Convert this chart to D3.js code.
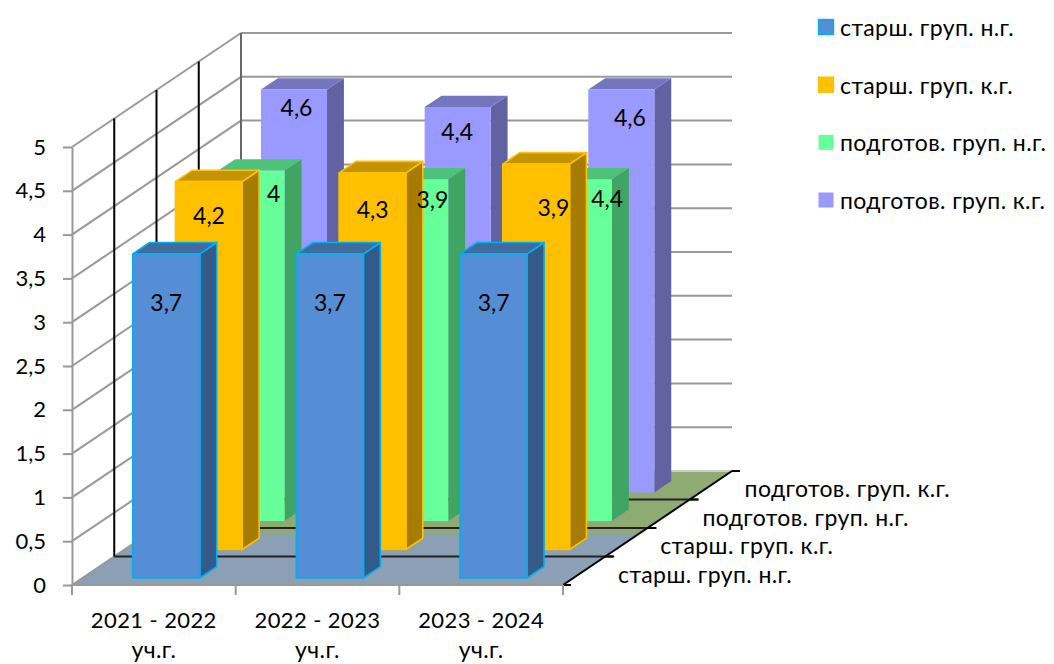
<!DOCTYPE html>
<html><head><meta charset="utf-8">
<script src="https://cdn.jsdelivr.net/npm/d3@7"></script>
<style>html,body{margin:0;background:#fff}svg{display:block}text{font-family:Lato,"Open Sans","Noto Sans",sans-serif;fill:#000}</style>
</head><body><svg id="c" width="1054" height="664"></svg>
<script>
const categories = ["2021 - 2022", "2022 - 2023", "2023 - 2024"];
const categorySub = ["уч.г.", "уч.г.", "уч.г."];
const seriesNames = ["старш. груп. н.г.", "старш. груп. к.г.", "подготов. груп. н.г.", "подготов. груп. к.г."];
const seniorStart = [3.7, 3.7, 3.7];
const seniorEnd = [4.2, 4.3, 4.4];
const prepStart = [4.0, 3.9, 3.9];
const prepEnd = [4.6, 4.4, 4.6];
const seniorStartLabels = ["3,7", "3,7", "3,7"];
const seniorEndLabels = ["4,2", "4,3", "3,9"];
const prepStartLabels = ["4", "3,9", "4,4"];
const prepEndLabels = ["4,6", "4,4", "4,6"];
const yTicks = [0, 0.5, 1, 1.5, 2, 2.5, 3, 3.5, 4, 4.5, 5];

const seriesValues = [seniorStart, seniorEnd, prepStart, prepEnd];
const seriesLabels = [seniorStartLabels, seniorEndLabels, prepStartLabels, prepEndLabels];
const palette = [
  {front:"#558ED5", top:"#3F6B9F", side:"#345A8A", stroke:"#00B0F0"},
  {front:"#FFC000", top:"#C49300", side:"#A67C00", stroke:"#FFC000"},
  {front:"#66FF99", top:"#4FC279", side:"#40A463", stroke:null},
  {front:"#9999FF", top:"#7575BD", side:"#6262A2", stroke:null}
];
// label nudges relative to the default spot on each bar's front face [dx, dy]
const labelNudge = [
  [[0,48],[0,48],[0,48]],
  [[0,33],[0,36],[17,43]],
  [[22,22],[17,20],[28,19]],
  [[2,17],[-1,24],[8,27]]
];

const TEXT_CYR = 23, TEXT_NUM = 22, TEXT_DATA = 23, TRACK = "0.4px";
const svg = d3.select("#c");
const x = d3.scaleBand().domain(categories).range([72,563]).paddingInner(.59).paddingOuter(.295).align(.52);
const xEdge = d3.scaleLinear().domain([0,categories.length]).range([72,563]);
const y = d3.scaleLinear().domain([0,5]).range([585,147]);
const dx = d3.scaleLinear().domain([0,1]).range([0,169]);
const dy = d3.scaleLinear().domain([0,1]).range([0,-114]);
const barDx = d3.scaleLinear().domain([0,1]).range([0,171]);
const yVal = v => y(v)-y(0);
const path = pts => "M"+pts.map(p=>p.join(",")).join("L")+"Z";
const line = (g,a,b,stroke,w) => g.append("line").attr("x1",a[0]).attr("y1",a[1]).attr("x2",b[0]).attr("y2",b[1]).attr("stroke",stroke).attr("stroke-width",w);

const defs = svg.append("defs");
const grad = defs.append("linearGradient").attr("id","floor").attr("x1",0).attr("y1",0).attr("x2",0).attr("y2",1);
grad.append("stop").attr("offset",.52).attr("stop-color","#8FAA72");
grad.append("stop").attr("offset",.58).attr("stop-color","#8B9FB5");

const x0 = xEdge(0), x1 = xEdge(3), base = y(0), D = 1;
const walls = svg.append("g");
walls.append("path").attr("d",path([[x0,base],[x1,base],[x1+dx(D),base+dy(D)],[x0+dx(D),base+dy(D)]])).attr("fill","url(#floor)");
yTicks.forEach(t=>{
  const a=[x0,y(t)], b=[x0+dx(D),y(t)+dy(D)], c=[x1+dx(D),y(t)+dy(D)];
  line(walls,a,b,"#999",2);
  line(walls,b,c,t===0?"#ccc":"#999",2);
});
line(walls,[x0+dx(D),y(5)+dy(D)],[x0+dx(D),base+dy(D)],"#666",2);
[.25,.5,.75].forEach(d=>{
  const bx=x0+dx(d), by=base+dy(d);
  line(walls,[bx,y(5)+dy(d)],[bx,by],"#000",2);
  line(walls,[bx,by],[x1+dx(d)+9,by],"#222",2);
});
const axisG = svg.append("g");
line(axisG,[x1,base],[x1+dx(D),base+dy(D)],"#000",2);
[0,.25,.5,.75,1].forEach(d=>line(axisG,[x1+dx(d),base+dy(d)],[x1+dx(d)+8,base+dy(d)],"#000",2));
seriesNames.forEach((s,i)=>{
  axisG.append("text").attr("x",618+i*42.2).attr("y",574-i*28.7).attr("dominant-baseline","central")
    .attr("font-size",TEXT_CYR).style("letter-spacing",TRACK).text(s);
});
const yAxis = svg.append("g").attr("transform",`translate(${x0},0)`)
  .call(d3.axisLeft(y).tickValues(yTicks).tickSize(9).tickPadding(17).tickSizeOuter(0).tickFormat(t=>String(t).replace(".",",")));
yAxis.select(".domain").attr("stroke","#999").attr("stroke-width",2);
yAxis.selectAll(".tick line").attr("stroke","#999").attr("stroke-width",2);
yAxis.selectAll("text").attr("font-size",TEXT_NUM).attr("font-family","Lato,'Open Sans',sans-serif");
line(svg,[x0,base],[x1,base],"#999",2);
d3.range(categories.length+1).forEach(i=>line(svg,[xEdge(i),base],[xEdge(i),base+10],"#999",2));
categories.forEach((c,i)=>{
  const cx=(xEdge(i)+xEdge(i+1))/2;
  svg.append("text").attr("x",cx).attr("y",619).attr("text-anchor","middle").attr("dominant-baseline","central")
    .attr("font-size",TEXT_NUM).style("letter-spacing",TRACK).text(c);
  svg.append("text").attr("x",cx).attr("y",649).attr("text-anchor","middle").attr("dominant-baseline","central")
    .attr("font-size",TEXT_CYR).style("letter-spacing",TRACK).text(categorySub[i]);
});

const depthStart = .0614, rowStep = .25, barDepth = .1;
const barsG = svg.append("g"), labelsG = svg.append("g");
d3.range(seriesNames.length-1,-1,-1).forEach(s=>{
  const d = depthStart + s*rowStep, col = palette[s];
  const w = x.bandwidth() - s*.35;
  categories.forEach((c,i)=>{
    const v = seriesValues[s][i];
    const L = x(c)+barDx(d), R = L+w, B = base+dy(d), T = B+yVal(v);
    const ox = dx(barDepth), oy = dy(barDepth);
    const g = barsG.append("g");
    const st = el => { if(col.stroke) el.attr("stroke",col.stroke).attr("stroke-width",1.6).attr("stroke-linejoin","round"); return el; };
    st(g.append("path").attr("d",path([[R,T],[R+ox,T+oy],[R+ox,B+oy],[R,B]])).attr("fill",col.side));
    st(g.append("path").attr("d",path([[L,T],[L+ox,T+oy],[R+ox,T+oy],[R,T]])).attr("fill",col.top));
    st(g.append("path").attr("d",path([[L,T],[R,T],[R,B],[L,B]])).attr("fill",col.front));
  });
});
d3.range(seriesNames.length-1,-1,-1).forEach(s=>{
  const d = depthStart + s*rowStep;
  categories.forEach((c,i)=>{
    const L = x(c)+barDx(d), T = base+dy(d)+yVal(seriesValues[s][i]);
    const n = labelNudge[s][i];
    labelsG.append("text").attr("x",L+x.bandwidth()/2+n[0]).attr("y",T+n[1])
      .attr("text-anchor","middle").attr("dominant-baseline","central").attr("font-size",TEXT_DATA).text(seriesLabels[s][i]);
  });
});

const legendY = d3.scalePoint().domain(seriesNames).range([27,200]);
seriesNames.forEach((s,i)=>{
  const col = palette[i], ly = legendY(s);
  const r = svg.append("rect").attr("x",818.5).attr("y",ly-7.5).attr("width",15).attr("height",15).attr("fill",col.front);
  if(col.stroke) r.attr("stroke",col.stroke).attr("stroke-width",1.4);
  svg.append("text").attr("x",840).attr("y",ly).attr("dominant-baseline","central")
    .attr("font-size",TEXT_CYR).style("letter-spacing",TRACK).text(s);
});
</script></body></html>
